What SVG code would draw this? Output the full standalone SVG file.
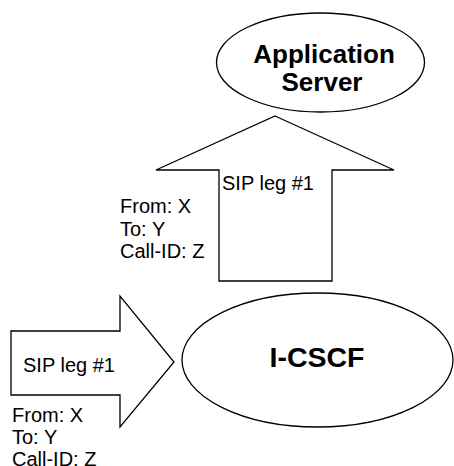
<svg xmlns="http://www.w3.org/2000/svg" width="454" height="466" viewBox="0 0 454 466">
<style>
.shape{fill:#fff;stroke:#000;stroke-width:1.3}
.t{font-family:"Liberation Sans",Arial,sans-serif;font-size:20px;fill:#000}
.b{font-family:"Liberation Sans",Arial,sans-serif;font-size:26px;font-weight:bold;fill:#000;text-anchor:middle}
</style>
<rect width="454" height="466" fill="#fff"/>
<g id="connectors">
<g id="arrow-up">
<polygon class="shape" points="275,116 394,170 332,170 332,281 219,281 219,170 156,170"/>
<text class="t" x="222" y="189.5">SIP leg #1</text>
</g>
<g id="arrow-right">
<polygon class="shape" points="11,331 120,331 120,296 174,362 120,427 120,395 11,395"/>
<text class="t" x="23" y="372">SIP leg #1</text>
</g>
</g>
<g id="labels-upper">
<text class="t" x="120" y="213">From: X</text>
<text class="t" x="120" y="235.5">To: Y</text>
<text class="t" x="120" y="258">Call-ID: Z</text>
</g>
<g id="labels-lower">
<text class="t" x="12" y="421.5">From: X</text>
<text class="t" x="12" y="444">To: Y</text>
<text class="t" x="12" y="466">Call-ID: Z</text>
</g>
<g id="application-server">
<ellipse class="shape" cx="320.5" cy="62.5" rx="104" ry="49.5"/>
<text class="b" x="324" y="63">Application</text>
<text class="b" x="322" y="90.5">Server</text>
</g>
<g id="i-cscf">
<ellipse class="shape" cx="317.5" cy="360" rx="135.5" ry="67"/>
<text class="b" x="317" y="367" style="font-size:28.5px">I-CSCF</text>
</g>
</svg>
